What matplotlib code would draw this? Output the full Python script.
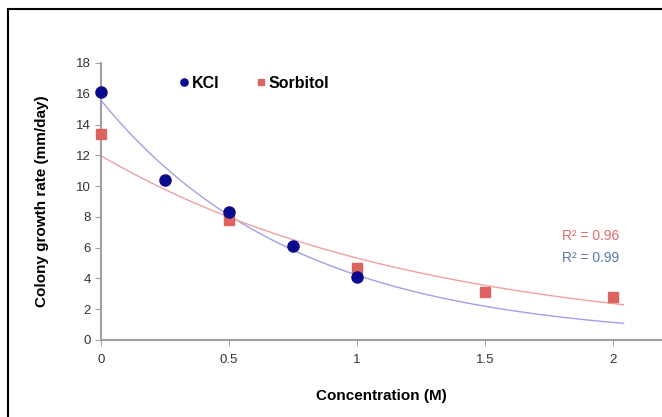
import matplotlib.pyplot as plt
from matplotlib.lines import Line2D
import numpy as np

plt.rcParams["font.family"] = ["Liberation Sans", "DejaVu Sans"]

# Data
kcl_conc = [0, 0.25, 0.5, 0.75, 1.0]
kcl_rate = [16.1, 10.4, 8.3, 6.1, 4.1]
sorb_conc = [0, 0.5, 1.0, 1.5, 2.0]
sorb_rate = [13.4, 7.8, 4.7, 3.1, 2.8]
r2_labels = ["R\u00b2 = 0.96", "R\u00b2 = 0.99"]

KCL_DOT = "#0a0a8c"
KCL_LINE = "#a0a0e6"
SORB_DOT = "#dc6460"
SORB_LINE = "#f0a0a0"


def exp_fit(x, y):
    # Excel-style exponential trendline: fit on log(y)
    b, a = np.polyfit(x, np.log(y), 1)
    return lambda t: np.exp(a) * np.exp(b * t)


fig = plt.figure(figsize=(6.62, 4.17), dpi=100)
ax = fig.add_axes([0.1526, 0.1847, 0.8474, 0.6643])

xs = np.linspace(0, 2.04, 200)
ax.plot(xs, exp_fit(kcl_conc, kcl_rate)(xs), color=KCL_LINE, lw=1.0, zorder=2)
ax.plot(xs, exp_fit(sorb_conc, sorb_rate)(xs), color=SORB_LINE, lw=1.0, zorder=2)

ax.plot(sorb_conc, sorb_rate, "s", color=SORB_DOT, ms=7.5, mec=SORB_DOT, zorder=3,
        label="Sorbitol", clip_on=False)
ax.plot(kcl_conc, kcl_rate, "o", color=KCL_DOT, ms=8, zorder=4, label="KCl", clip_on=False)

ax.text(1.80, 6.75, r2_labels[0], color="#e46a6a", fontsize=10, va="center")
ax.text(1.80, 5.3, r2_labels[1], color="#5a78a8", fontsize=10, va="center")

ax.set_xlim(0, 2.19)
ax.set_ylim(0, 18)
ax.set_xticks([0, 0.5, 1, 1.5, 2])
ax.set_xticklabels(["0", "0.5", "1", "1.5", "2"])
ax.set_yticks(range(0, 19, 2))

for side in ["top", "right"]:
    ax.spines[side].set_visible(False)
for side in ["left", "bottom"]:
    ax.spines[side].set_color("#a0a0a0")
    ax.spines[side].set_linewidth(1.5)
ax.tick_params(colors="#a0a0a0", labelcolor="#333333", labelsize=9.5, length=4, width=0.8)
ax.tick_params(axis="x", pad=6)

ax.set_xlabel("Concentration (M)", fontsize=11, fontweight="bold", labelpad=17)
ax.set_ylabel("Colony growth rate (mm/day)", fontsize=11, fontweight="bold", labelpad=19)

handles, labels = ax.get_legend_handles_labels()
ax.legend(handles[::-1], labels[::-1], loc="upper left", bbox_to_anchor=(0.113, 1.005), ncol=2,
          frameon=False, handlelength=0.6, handletextpad=0.2, columnspacing=2.3,
          markerscale=0.65, prop={"weight": "bold", "size": 11.5})

# figure border (top and left edges visible in the reference)
fig.add_artist(Line2D([8 / 662, 8 / 662], [0, 1 - 9 / 417], transform=fig.transFigure, color="black", lw=1.5))
fig.add_artist(Line2D([8 / 662, 1], [1 - 9 / 417, 1 - 9 / 417], transform=fig.transFigure, color="black", lw=1.5))

plt.savefig("out.png", dpi=100)
